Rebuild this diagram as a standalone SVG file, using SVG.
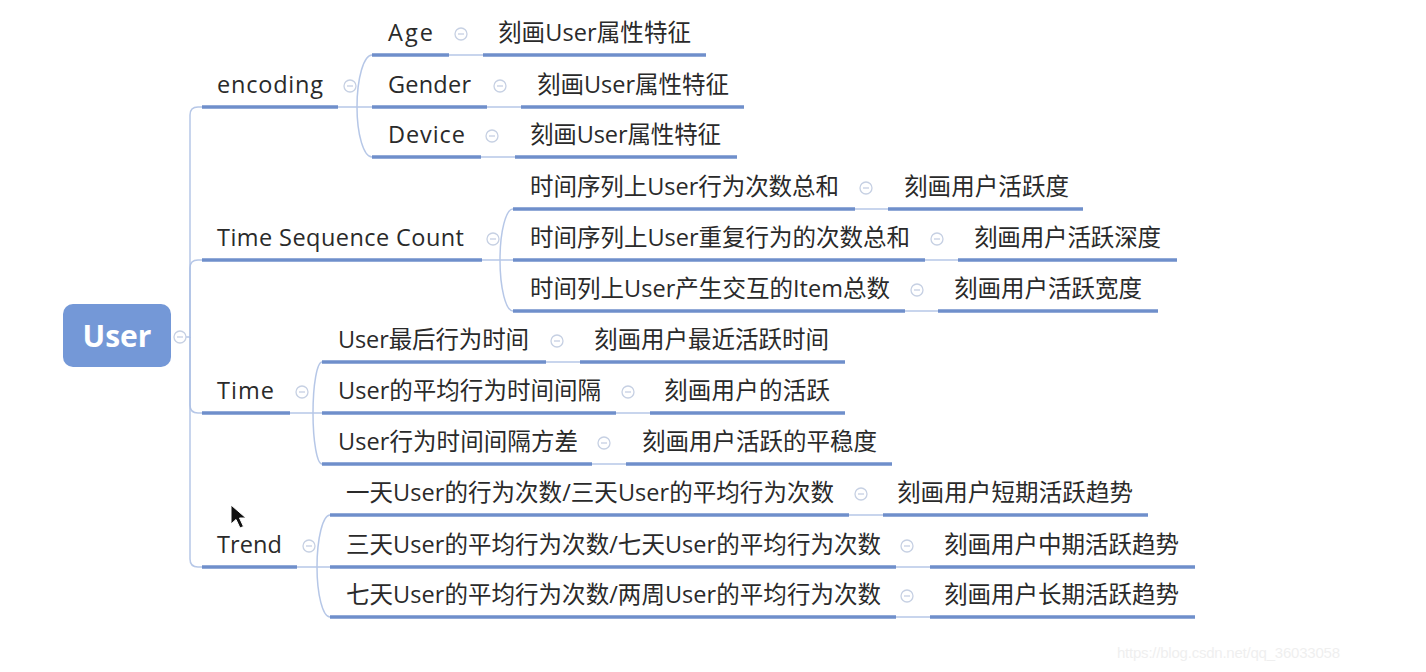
<svg xmlns="http://www.w3.org/2000/svg" width="1426" height="672" viewBox="0 0 1426 672">
<style>
.t{font-family:"Open Sans","Noto Sans CJK SC",sans-serif;font-size:23.5px;fill:#2a2a2a}
.u{stroke:#6f8fcb;stroke-width:3.5;fill:none}
.c{stroke:#a9bde3;stroke-width:1.5;fill:none;stroke-opacity:0.85}
.k{fill:#fff;stroke:#c6d0e3;stroke-width:1.3}
.m{stroke:#c6d0e3;stroke-width:1.3}
</style>
<defs>
<g id="col"><circle class="k" r="6"/><line class="m" x1="-3" y1="0" x2="3" y2="0"/></g>
</defs>
<rect width="1426" height="672" fill="#fff"/>
<g id="connectors">
<path class="c" d="M186,337 H190 V115 Q190,107 198,107 H202"/>
<path class="c" d="M190,337 V268 Q190,260 198,260 H202"/>
<path class="c" d="M190,337 V405 Q190,413 198,413 H202"/>
<path class="c" d="M190,337 V559 Q190,567 198,567 H202"/>
<path class="c" d="M338,107 H372 M357,107 A15,52 0 0 1 372,55 M357,107 A15,50 0 0 0 372,157"/>
<path class="c" d="M449,55 H483 M487,107 H521 M481,157 H515"/>
<path class="c" d="M482,260 H513 M500,260 A13,51 0 0 1 513,209 M500,260 A13,51 0 0 0 513,311"/>
<path class="c" d="M855,209 H888 M925,260 H958 M905,311 H938"/>
<path class="c" d="M290,413 H322 M313,413 A9,51 0 0 1 322,362 M313,413 A9,51 0 0 0 322,464"/>
<path class="c" d="M546,362 H580 M616,413 H650 M592,464 H626"/>
<path class="c" d="M297,567 H330 M317,567 A13,52 0 0 1 330,515 M317,567 A13,50 0 0 0 330,617"/>
<path class="c" d="M849,515 H883 M896,567 H930 M896,617 H930"/>
</g>
<g id="root">
<rect x="63" y="304" width="108" height="63" rx="10" fill="#7498d7"/>
<text x="117" y="347" text-anchor="middle" font-family="'Open Sans','Noto Sans',sans-serif" font-size="30" font-weight="bold" fill="#fff">User</text>
<use href="#col" x="180" y="337"/>
</g>
<g id="encoding"><line class="u" x1="202" y1="107" x2="338" y2="107"/><text class="t" x="217" y="93" textLength="106">encoding</text><use href="#col" x="350" y="86"/></g>
<g id="age"><line class="u" x1="372" y1="55" x2="449" y2="55"/><text class="t" x="388" y="41" textLength="45">Age</text><use href="#col" x="461" y="34"/></g>
<g id="age-c"><line class="u" x1="483" y1="55" x2="706" y2="55"/><text class="t" x="498" y="41" textLength="193">刻画User属性特征</text></g>
<g id="gender"><line class="u" x1="372" y1="107" x2="487" y2="107"/><text class="t" x="388" y="93" textLength="83">Gender</text><use href="#col" x="500" y="86"/></g>
<g id="gender-c"><line class="u" x1="521" y1="107" x2="744" y2="107"/><text class="t" x="537" y="93" textLength="192">刻画User属性特征</text></g>
<g id="device"><line class="u" x1="372" y1="157" x2="481" y2="157"/><text class="t" x="388" y="143" textLength="77">Device</text><use href="#col" x="492" y="136"/></g>
<g id="device-c"><line class="u" x1="515" y1="157" x2="737" y2="157"/><text class="t" x="530" y="143" textLength="191">刻画User属性特征</text></g>
<g id="tsc"><line class="u" x1="202" y1="260" x2="482" y2="260"/><text class="t" x="217" y="246" textLength="247">Time Sequence Count</text><use href="#col" x="493" y="239"/></g>
<g id="tsc1"><line class="u" x1="513" y1="209" x2="855" y2="209"/><text class="t" x="530" y="195" textLength="309">时间序列上User行为次数总和</text><use href="#col" x="866" y="188"/></g>
<g id="tsc1-c"><line class="u" x1="888" y1="209" x2="1083" y2="209"/><text class="t" x="904" y="195" textLength="165">刻画用户活跃度</text></g>
<g id="tsc2"><line class="u" x1="513" y1="260" x2="925" y2="260"/><text class="t" x="530" y="246" textLength="380">时间序列上User重复行为的次数总和</text><use href="#col" x="937" y="239"/></g>
<g id="tsc2-c"><line class="u" x1="958" y1="260" x2="1177" y2="260"/><text class="t" x="974" y="246" textLength="187">刻画用户活跃深度</text></g>
<g id="tsc3"><line class="u" x1="513" y1="311" x2="905" y2="311"/><text class="t" x="530" y="297" textLength="360">时间列上User产生交互的Item总数</text><use href="#col" x="917" y="290"/></g>
<g id="tsc3-c"><line class="u" x1="938" y1="311" x2="1158" y2="311"/><text class="t" x="954" y="297" textLength="188">刻画用户活跃宽度</text></g>
<g id="time"><line class="u" x1="202" y1="413" x2="290" y2="413"/><text class="t" x="217" y="399" textLength="57">Time</text><use href="#col" x="302" y="392"/></g>
<g id="time1"><line class="u" x1="322" y1="362" x2="546" y2="362"/><text class="t" x="338" y="348" textLength="191">User最后行为时间</text><use href="#col" x="557" y="341"/></g>
<g id="time1-c"><line class="u" x1="580" y1="362" x2="845" y2="362"/><text class="t" x="594" y="348" textLength="235">刻画用户最近活跃时间</text></g>
<g id="time2"><line class="u" x1="322" y1="413" x2="616" y2="413"/><text class="t" x="338" y="399" textLength="263">User的平均行为时间间隔</text><use href="#col" x="628" y="392"/></g>
<g id="time2-c"><line class="u" x1="650" y1="413" x2="845" y2="413"/><text class="t" x="664" y="399" textLength="166">刻画用户的活跃</text></g>
<g id="time3"><line class="u" x1="322" y1="464" x2="592" y2="464"/><text class="t" x="338" y="450" textLength="240">User行为时间间隔方差</text><use href="#col" x="604" y="443"/></g>
<g id="time3-c"><line class="u" x1="626" y1="464" x2="892" y2="464"/><text class="t" x="642" y="450" textLength="235">刻画用户活跃的平稳度</text></g>
<g id="trend"><line class="u" x1="202" y1="567" x2="297" y2="567"/><text class="t" x="217" y="553" textLength="65">Trend</text><use href="#col" x="309" y="546"/></g>
<g id="trend1"><line class="u" x1="330" y1="515" x2="849" y2="515"/><text class="t" x="346" y="501" textLength="488">一天User的行为次数/三天User的平均行为次数</text><use href="#col" x="861" y="494"/></g>
<g id="trend1-c"><line class="u" x1="883" y1="515" x2="1148" y2="515"/><text class="t" x="897" y="501" textLength="236">刻画用户短期活跃趋势</text></g>
<g id="trend2"><line class="u" x1="330" y1="567" x2="896" y2="567"/><text class="t" x="346" y="553" textLength="535">三天User的平均行为次数/七天User的平均行为次数</text><use href="#col" x="907" y="546"/></g>
<g id="trend2-c"><line class="u" x1="930" y1="567" x2="1195" y2="567"/><text class="t" x="944" y="553" textLength="235">刻画用户中期活跃趋势</text></g>
<g id="trend3"><line class="u" x1="330" y1="617" x2="896" y2="617"/><text class="t" x="346" y="603" textLength="535">七天User的平均行为次数/两周User的平均行为次数</text><use href="#col" x="907" y="596"/></g>
<g id="trend3-c"><line class="u" x1="930" y1="617" x2="1195" y2="617"/><text class="t" x="944" y="603" textLength="235">刻画用户长期活跃趋势</text></g>
<polygon points="231,505 231,524 236,519.5 240,528 243.5,526.5 239.5,518 246,518" fill="#111" stroke="#fff" stroke-width="1"/>
<text x="1117" y="658" font-family="'Liberation Sans',sans-serif" font-size="15" fill="#efefef" textLength="223">https://blog.csdn.net/qq_36033058</text>
</svg>
